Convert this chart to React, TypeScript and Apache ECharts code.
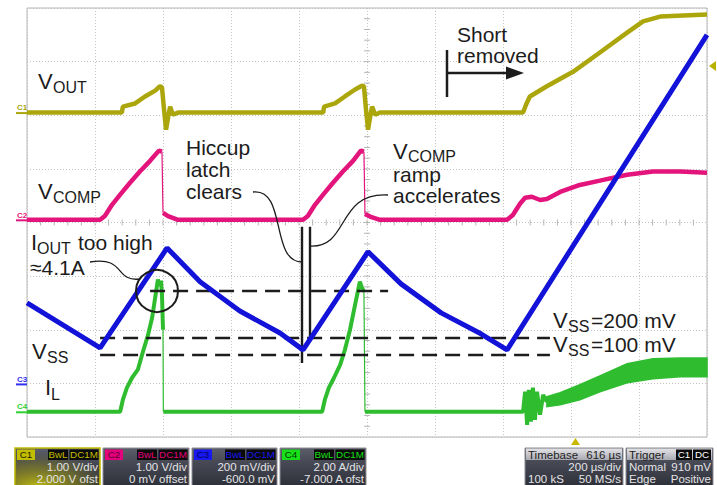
import React, { useEffect, useRef } from 'react';
import * as echarts from 'echarts';

// ---------------- data read from the scope capture ----------------
// time axis: µs from the left edge of the screen (200 µs/div, 10 div)
const vOutTime = [0, 279, 282, 318, 347, 377, 391, 397, 403, 409, 415, 421, 429, 444, 871, 874, 906, 935, 965, 985, 991, 997, 1003, 1009, 1015, 1024, 1038, 1459, 1468, 1479, 1529, 1606, 1685, 1765, 1812, 1862, 2000];
const vOutVolts = [0, 0, 0.11, 0.17, 0.3, 0.41, 0.49, 0.47, 0.06, -0.32, -0.09, 0.11, -0.04, 0, 0, 0.11, 0.17, 0.3, 0.43, 0.5, 0.49, 0.06, -0.32, -0.09, 0.11, -0.04, 0, 0, 0.15, 0.3, 0.49, 0.76, 1.12, 1.49, 1.7, 1.79, 1.83];

const vCompTime = [0, 215, 229, 250, 274, 303, 332, 362, 388, 397, 400, 415, 444, 812, 826, 847, 871, 900, 929, 959, 982, 991, 994, 1009, 1038, 1412, 1429, 1450, 1465, 1485, 1509, 1529, 1568, 1626, 1685, 1765, 1841, 1921, 2000];
const vCompVolts = [0, 0, 0.07, 0.28, 0.47, 0.69, 0.9, 1.1, 1.29, 1.27, 0.13, 0.07, 0, 0, 0.07, 0.28, 0.47, 0.69, 0.9, 1.1, 1.29, 1.27, 0.11, 0.06, 0, 0, 0.09, 0.3, 0.41, 0.43, 0.37, 0.39, 0.52, 0.65, 0.73, 0.84, 0.9, 0.9, 0.88];
// indices where the trace falls abruptly (drawn as a thin edge)
const vCompFastEdges = [10, 22];

const vSsTime = [0, 215, 412, 509, 626, 744, 812, 1003, 1100, 1218, 1335, 1412, 2000];
const vSsMilliVolts = [302, 134, 507, 381, 272, 190, 127, 493, 373, 265, 187, 127, 1302];

const iLTime = [0, 274, 282, 294, 309, 326, 341, 356, 368, 376, 385, 391, 394, 397, 400, 401, 868, 876, 888, 903, 921, 935, 950, 962, 974, 979, 985, 991, 994, 1459, 1465, 1471, 1476, 1482, 1488, 1494, 1500, 1509, 1518, 1529];
const iLAmps = [0, 0, 0.45, 0.9, 1.27, 1.57, 2.24, 2.87, 3.51, 4.18, 4.93, 4.7, 4.89, 4.37, 3.06, 0, 0, 0.45, 0.9, 1.27, 1.75, 2.31, 3.06, 3.81, 4.55, 4.85, 4.63, 4.48, 0, 0, 0.75, -0.49, 0.82, -0.37, 0.9, -0.3, 0.75, -0.11, 0.63, 0.37];
const iLFastEdges = [15, 28];

// envelope of the noisy inductor current after the short is removed
const iLBandTime = [1529, 1568, 1626, 1685, 1765, 1841, 1921, 2000];
const iLBandUpperAmps = [0.56, 0.71, 1.01, 1.34, 1.79, 1.98, 2.01, 2.01];
const iLBandLowerAmps = [0.19, 0.26, 0.45, 0.75, 1.08, 1.23, 1.31, 1.31];

// channel settings: units per division and ground-marker level (div from bottom)
const C1 = { perDiv: 1, zeroDiv: 6.05 };
const C2 = { perDiv: 1, zeroDiv: 4.05 };
const C3 = { perDiv: 200, zeroDiv: 0.99 };
const C4 = { perDiv: 2, zeroDiv: 0.47 };
const toDiv = (ch: any, v: number) => ch.zeroDiv + v / ch.perDiv;

// ---------------- styling / layout ----------------
const YELLOW = '#aba60c';
const PINK = '#e3147c';
const BLUE = '#1212d8';
const GREEN = '#2fbd2f';
const INK = '#1c1c1c';
const FONT = '"Liberation Sans", Arial, Helvetica, sans-serif';
const GRID = { left: 27, top: 8, width: 680, height: 429 };
const divToPx = (d: number) => GRID.top + GRID.height - (d * GRID.height) / 8;

function T(x: number, base: number, text: string, size: number, o: any = {}) {
  const align = o.align || 'left';
  return {
    type: 'text',
    z: o.z || 100,
    silent: true,
    style: {
      x,
      y: base - 0.35 * size,
      text,
      fontSize: size,
      fontFamily: FONT,
      fontWeight: o.weight || 'normal',
      fill: o.fill || INK,
      textAlign: align,
      align,
      textVerticalAlign: 'middle',
      verticalAlign: 'middle',
    },
  };
}

// multi-line text block: base = baseline of the first line
function TM(x: number, base: number, text: string, size: number, lineHeight: number) {
  return {
    type: 'text',
    z: 100,
    silent: true,
    style: {
      x,
      y: base - 0.35 * size - lineHeight / 2,
      text,
      fontSize: size,
      fontFamily: FONT,
      lineHeight,
      fill: INK,
      textAlign: 'left',
      align: 'left',
      textVerticalAlign: 'top',
      verticalAlign: 'top',
    },
  };
}

function sub(x: number, base: number, main: string, subText: string, subDrop = 4) {
  const els: any[] = [T(x, base, main, 22)];
  const mainW = main === 'I' ? 6 : 15;
  els.push(T(x + mainW, base + subDrop, subText, 16));
  return els;
}

function lineEl(x1: number, y1: number, x2: number, y2: number, w: number, color = INK) {
  return { type: 'line', z: 100, silent: true, shape: { x1, y1, x2, y2 }, style: { stroke: color, lineWidth: w } };
}

function curve(p: number[]) {
  return {
    type: 'bezierCurve',
    z: 100,
    silent: true,
    shape: { x1: p[0], y1: p[1], cpx1: p[2], cpy1: p[3], cpx2: p[4], cpy2: p[5], x2: p[6], y2: p[7] },
    style: { stroke: INK, lineWidth: 1.3, fill: 'none' },
  };
}

const darkGrad = {
  type: 'linear', x: 0, y: 0, x2: 0, y2: 1,
  colorStops: [
    { offset: 0, color: '#5c5e69' },
    { offset: 0.35, color: '#474955' },
    { offset: 1, color: '#2c2e37' },
  ],
};
const lightGrad = {
  type: 'linear', x: 0, y: 0, x2: 0, y2: 1,
  colorStops: [
    { offset: 0, color: '#e2e2e6' },
    { offset: 1, color: '#a9aab2' },
  ],
};

function badge(x: number, w: number, text: string, fill: string, color: string) {
  return [
    { type: 'rect', z: 101, silent: true, shape: { x, y: 449.5, width: w, height: 10.5 }, style: { fill } },
    T(x + w / 2, 458.4, text, 9.8, { fill: color, align: 'center', z: 102 }),
  ];
}

function chanBox(x: number, w: number, label: string, color: string, labelColor: string, l1: string, l2: string, selected: boolean) {
  const els: any[] = [
    { type: 'rect', z: 100, silent: true, shape: { x, y: 448, width: w, height: 40 }, style: { fill: darkGrad, stroke: selected ? color : '#8d8e96', lineWidth: selected ? 1.6 : 1 } },
  ];
  if (selected) {
    els.push({
      type: 'rect', z: 100, silent: true, shape: { x: x + 1, y: 449, width: w - 2, height: 38 },
      style: {
        fill: {
          type: 'radial', x: 0.25, y: 1, r: 0.9,
          colorStops: [
            { offset: 0, color: 'rgba(200,195,20,0.95)' },
            { offset: 0.6, color: 'rgba(160,155,20,0.45)' },
            { offset: 1, color: 'rgba(120,120,20,0)' },
          ],
        },
      },
    });
  }
  els.push(...badge(x + 2, 18, label, color, labelColor));
  els.push(...badge(x + w - 52, 20, 'BwL', '#0a0a0a', color));
  els.push(...badge(x + w - 30.5, 29, 'DC1M', '#0a0a0a', color));
  els.push(T(x + w - 2, 471, l1, 11.5, { fill: '#e4e4e6', align: 'right', z: 102 }));
  els.push(T(x + w - 2, 483, l2, 11.5, { fill: '#e4e4e6', align: 'right', z: 102 }));
  return els;
}

function infoBox(x: number, w: number, head: string, headRight: string | null, rows: string[][], trig: boolean) {
  const els: any[] = [
    { type: 'rect', z: 100, silent: true, shape: { x, y: 448, width: w, height: 40 }, style: { fill: darkGrad, stroke: '#8d8e96', lineWidth: 1 } },
    { type: 'rect', z: 100, silent: true, shape: { x: x + 1, y: 448.5, width: w - 2, height: 11.5 }, style: { fill: lightGrad } },
    T(x + 3, 458.8, head, 11.5, { fill: '#222', z: 102 }),
  ];
  if (headRight) els.push(T(x + w - 2, 458.8, headRight, 11.5, { fill: '#222', align: 'right', z: 102 }));
  if (trig) {
    els.push(...badge(x + w - 37, 16, 'C1', '#0a0a0a', '#ffffff'));
    els.push(...badge(x + w - 20, 18, 'DC', '#0a0a0a', '#ffffff'));
  }
  rows.forEach((r, i) => {
    const base = 471 + i * 12;
    if (r[0]) els.push(T(x + 3, base, r[0], 11.5, { fill: '#e4e4e6', z: 102 }));
    if (r[1]) els.push(T(x + w - 2, base, r[1], 11.5, { fill: '#e4e4e6', align: 'right', z: 102 }));
  });
  return els;
}

function chanMarker(label: string, ch: any, color: string) {
  const y = divToPx(ch.zeroDiv);
  return [
    T(17, y - 2, label, 8, { fill: color, weight: 'bold' }),
    lineEl(16, y + 0.5, 27, y + 0.5, 2, color),
  ];
}

const toSeries = (time: number[], vals: number[], ch: any) => time.map((t, i) => [t, toDiv(ch, vals[i])]);

// split a trace at its fast edges: the body gets a gap there, the edges are returned separately
function splitEdges(time: number[], vals: number[], ch: any, edges: number[]) {
  const body: any[] = [];
  const thin: any[] = [];
  time.forEach((t, i) => {
    if (edges.indexOf(i) >= 0) {
      body.push([t, null]);
      thin.push([time[i - 1], toDiv(ch, vals[i - 1])], [t, toDiv(ch, vals[i])], [t, null]);
    }
    body.push([t, toDiv(ch, vals[i])]);
  });
  return { body, thin };
}

export default function App() {
  const ref = useRef<HTMLDivElement>(null);
  useEffect(() => {
    if (!ref.current) return;
    const chart = echarts.init(ref.current, null, { renderer: 'svg' });

    const axisCommon = {
      axisLine: { show: false },
      axisTick: { show: false },
      axisLabel: { show: false },
    };
    const splitLine = { show: true, lineStyle: { color: '#c3c3c3', type: [1, 2], width: 1 } };

    const dashed = { color: INK, width: 2.4, type: [15, 8] };
    const solid = { color: INK, width: 2.4, type: 'solid' };

    const comp = splitEdges(vCompTime, vCompVolts, C2, vCompFastEdges);
    const il = splitEdges(iLTime, iLAmps, C4, iLFastEdges);

    const graphics: any[] = [
      // channel ground markers
      ...chanMarker('C1', C1, YELLOW),
      ...chanMarker('C2', C2, PINK),
      ...chanMarker('C3', C3, '#3030f0'),
      ...chanMarker('C4', C4, '#2fd02f'),
      // trigger level marker (right) and trigger position marker (bottom)
      { type: 'polygon', z: 100, silent: true, shape: { points: [[716, 61], [716, 71], [709, 66]] }, style: { fill: '#b9b000' } },
      { type: 'polygon', z: 100, silent: true, shape: { points: [[571, 445], [580, 445], [575.5, 438]] }, style: { fill: '#c9b800' } },
      // labels
      ...sub(38, 89, 'V', 'OUT'),
      ...sub(38, 199, 'V', 'COMP'),
      ...sub(31, 250, 'I', 'OUT'),
      T(78, 250, 'too high', 21),
      T(30, 275, '≈4.1A', 21),
      ...sub(32, 359, 'V', 'SS'),
      T(45, 395, 'I', 22),
      T(51, 400, 'L', 16),
      TM(186, 155, 'Hiccup\nlatch\nclears', 21, 22),
      TM(457, 42, 'Short\nremoved', 21, 21),
      ...sub(393, 159, 'V', 'COMP', 3),
      TM(393, 182, 'ramp\naccelerates', 21, 21),
      ...sub(553, 328, 'V', 'SS'),
      T(591, 328, '=200 mV', 21),
      ...sub(553, 352, 'V', 'SS'),
      T(591, 352, '=100 mV', 21),
      // circle around the current peak
      { type: 'circle', z: 100, silent: true, shape: { cx: 157, cy: 291, r: 21 }, style: { fill: 'none', stroke: INK, lineWidth: 2 } },
      // leader curves
      curve([90, 262, 126, 256, 114, 282, 140, 279]),
      curve([253, 192, 287, 188, 270, 262, 302, 262]),
      curve([388, 195, 336, 192, 350, 248, 310, 246]),
      // "short removed" arrow
      lineEl(447, 50, 447, 97, 2.5),
      lineEl(447, 73, 509, 73, 2.5),
      { type: 'polygon', z: 100, silent: true, shape: { points: [[506, 66.5], [524, 73], [506, 79.5]] }, style: { fill: INK } },
      // status bar
      ...chanBox(15, 85, 'C1', '#c3bd00', '#1b1b00', '1.00 V/div', '2.000 V ofst', true),
      ...chanBox(103, 86, 'C2', '#e4007c', '#5a0030', '1.00 V/div', '0 mV offset', false),
      ...chanBox(192, 85, 'C3', '#1818f0', '#000060', '200 mV/div', '-600.0 mV', false),
      ...chanBox(280, 86, 'C4', '#18e018', '#003800', '2.00 A/div', '-7.000 A ofst', false),
      ...infoBox(525, 98, 'Timebase', '616 µs', [['', '200 µs/div'], ['100 kS', '50 MS/s']], false),
      ...infoBox(626, 87, 'Trigger', null, [['Normal', '910 mV'], ['Edge', 'Positive']], true),
    ];

    const option: any = {
      animation: false,
      backgroundColor: '#ffffff',
      grid: { ...GRID, show: true, borderColor: '#b4b4b4', borderWidth: 1, backgroundColor: '#ffffff' },
      xAxis: { type: 'value', min: 0, max: 2000, interval: 200, ...axisCommon, splitLine },
      yAxis: { type: 'value', min: 0, max: 8, interval: 1, ...axisCommon, splitLine },
      series: [
        {
          // graticule minor ticks on the centre lines
          type: 'custom', name: 'graticule', z: 1, silent: true,
          renderItem: (_p: any, api: any) => {
            const children: any[] = [];
            for (let t = 40; t < 2000; t += 40) {
              const p = api.coord([t, 4]);
              children.push({ type: 'line', shape: { x1: p[0], y1: p[1] - 3, x2: p[0], y2: p[1] + 3 }, style: { stroke: '#b5b5b5', lineWidth: 1 } });
            }
            for (let d = 0.2; d < 8; d += 0.2) {
              const p = api.coord([1000, d]);
              children.push({ type: 'line', shape: { x1: p[0] - 3, y1: p[1], x2: p[0] + 3, y2: p[1] }, style: { stroke: '#b5b5b5', lineWidth: 1 } });
            }
            return { type: 'group', children };
          },
          data: [[1000, 4]],
        },
        {
          type: 'custom', name: 'IL band', z: 2, silent: true,
          renderItem: (_p: any, api: any) => {
            const up = iLBandTime.map((t, i) => api.coord([t, toDiv(C4, iLBandUpperAmps[i])]));
            const lo = iLBandTime.map((t, i) => api.coord([t, toDiv(C4, iLBandLowerAmps[i])])).reverse();
            return { type: 'polygon', shape: { points: up.concat(lo) }, style: { fill: GREEN, stroke: GREEN, lineWidth: 1.5 } };
          },
          data: [[iLBandTime[0], toDiv(C4, iLBandLowerAmps[0])]],
        },
        { type: 'line', name: 'IL', z: 2, symbol: 'none', silent: true, connectNulls: false, data: il.body, lineStyle: { color: GREEN, width: 4 } },
        { type: 'line', name: 'IL edges', z: 2, symbol: 'none', silent: true, connectNulls: false, data: il.thin, lineStyle: { color: GREEN, width: 1.2 } },
        { type: 'line', name: 'VOUT', z: 3, symbol: 'none', silent: true, data: toSeries(vOutTime, vOutVolts, C1), lineStyle: { color: YELLOW, width: 4.5 } },
        { type: 'line', name: 'VCOMP', z: 4, symbol: 'none', silent: true, connectNulls: false, data: comp.body, lineStyle: { color: PINK, width: 4.5 } },
        { type: 'line', name: 'VCOMP edges', z: 4, symbol: 'none', silent: true, connectNulls: false, data: comp.thin, lineStyle: { color: PINK, width: 1.2 } },
        { type: 'line', name: 'VSS', z: 5, symbol: 'none', silent: true, data: toSeries(vSsTime, vSsMilliVolts, C3), lineStyle: { color: BLUE, width: 5 } },
        {
          type: 'line', name: 'annotations', z: 6, symbol: 'none', silent: true, data: [],
          markLine: {
            silent: true, symbol: ['none', 'none'], label: { show: false }, lineStyle: dashed,
            data: [
              [{ coord: [362, 2.72] }, { coord: [1062, 2.72] }],
              [{ coord: [215, 1.85] }, { coord: [1538, 1.85] }],
              [{ coord: [215, 1.53] }, { coord: [1538, 1.53] }],
              [{ coord: [809, 3.92], lineStyle: solid }, { coord: [809, 1.38], lineStyle: solid }],
              [{ coord: [832, 3.92], lineStyle: solid }, { coord: [832, 1.85], lineStyle: solid }],
            ],
          },
        },
      ],
      graphic: { elements: graphics },
    };
    chart.setOption(option);
    return () => chart.dispose();
  }, []);

  return <div ref={ref} style={{ position: 'absolute', left: 0, top: 0, width: 717, height: 485 }} />;
}
